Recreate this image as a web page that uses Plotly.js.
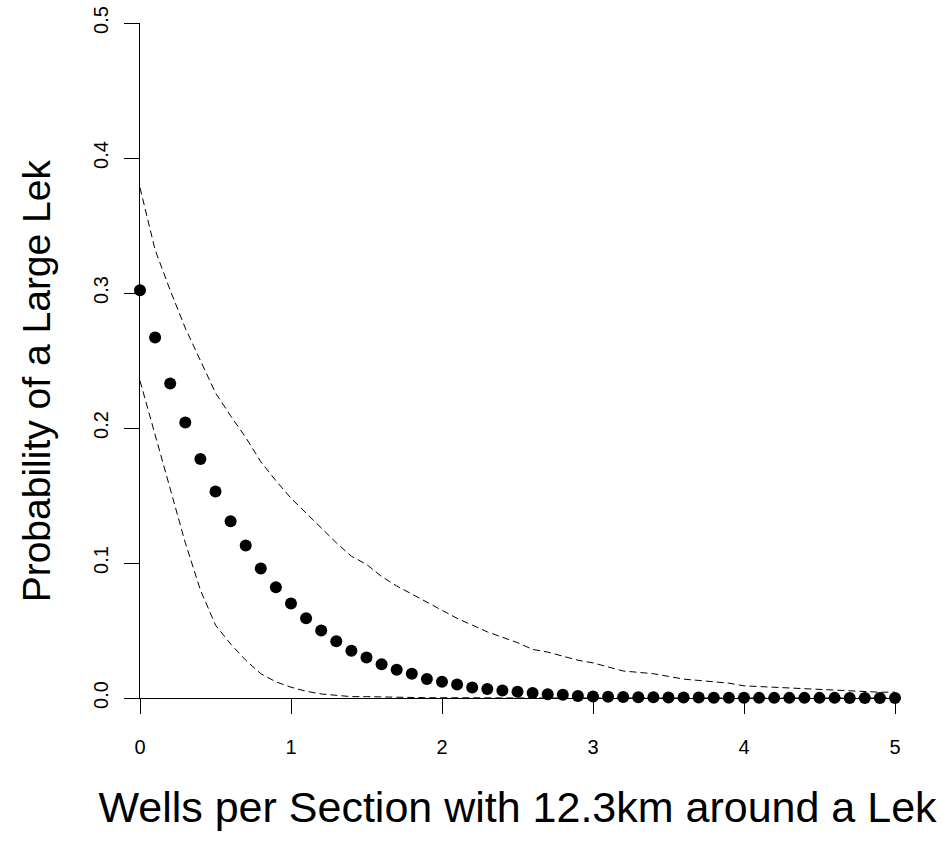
<!DOCTYPE html>
<html>
<head>
<meta charset="utf-8">
<script src="https://cdn.plot.ly/plotly-3.0.1.min.js"></script>
<style>html,body{margin:0;padding:0;background:#fff;}#chart{width:943px;height:841px;}</style>
</head>
<body>
<div id="chart"></div>
<script>
const wells = [0,0.1,0.2,0.3,0.4,0.5,0.6,0.7,0.8,0.9,1.0,1.1,1.2,1.3,1.4,1.5,1.6,1.7,1.8,1.9,2.0,2.1,2.2,2.3,2.4,2.5,2.6,2.7,2.8,2.9,3.0,3.1,3.2,3.3,3.4,3.5,3.6,3.7,3.8,3.9,4.0,4.1,4.2,4.3,4.4,4.5,4.6,4.7,4.8,4.9,5.0];
const probEstimate = [0.302,0.267,0.233,0.204,0.177,0.153,0.131,0.113,0.096,0.082,0.070,0.059,0.050,0.042,0.035,0.030,0.025,0.021,0.018,0.014,0.012,0.010,0.0078,0.0066,0.0056,0.0046,0.0037,0.0028,0.0024,0.0014,0.0011,0.0009,0.0007,0.0006,0.0005,0.0004,0.0003,0.0003,0.0002,0.0002,0.0002,0.0001,0.0001,0.0001,0.0001,0.0001,0.0001,0.0000,0.0000,0.0000,0.0000];
const upperBound = [0.378,0.332,0.302,0.274,0.250,0.226,0.209,0.193,0.175,0.161,0.148,0.137,0.126,0.115,0.105,0.099,0.090,0.083,0.077,0.071,0.065,0.059,0.054,0.049,0.045,0.041,0.036,0.034,0.031,0.028,0.026,0.023,0.020,0.019,0.018,0.016,0.014,0.013,0.012,0.011,0.009,0.0085,0.0078,0.007,0.0065,0.006,0.0056,0.005,0.0045,0.0043,0.0043];
const lowerBound = [0.235,0.195,0.157,0.115,0.080,0.054,0.040,0.028,0.018,0.012,0.008,0.005,0.003,0.002,0.001,0.001,0.0007,0.0005,0.0003,0.0002,0.0002,0.0001,0.0001,0.0001,0,0,0,0,0,0,0,0,0,0,0,0,0,0,0,0,0,0,0,0,0,0,0,0,0,0,0];
const xTicks = [0,1,2,3,4,5];
const yTicks = [0.0,0.1,0.2,0.3,0.4,0.5];
const xTitle = "Wells per Section with 12.3km around a Lek";
const yTitle = "Probability of a Large Lek";

const font = "Liberation Sans, Arial, sans-serif";
const traces = [
  {x: wells, y: upperBound, mode: 'lines', line: {color: '#000', width: 1, dash: '7px,4px'}, hoverinfo: 'skip', cliponaxis: false},
  {x: wells, y: lowerBound, mode: 'lines', line: {color: '#000', width: 1, dash: '7px,4px'}, hoverinfo: 'skip', cliponaxis: false},
  {x: wells, y: probEstimate, mode: 'markers', marker: {color: '#000', size: 12}, cliponaxis: false}
];
const layout = {
  width: 943, height: 841,
  margin: {l: 140, r: 48, t: 23, b: 143},
  paper_bgcolor: '#fff', plot_bgcolor: '#fff',
  showlegend: false,
  font: {family: font, color: '#000'},
  xaxis: {
    range: [0, 5], tickvals: xTicks, ticktext: xTicks.map(String),
    showline: true, linecolor: '#000', linewidth: 1,
    ticks: 'outside', ticklen: 15, tickwidth: 1, tickcolor: '#000',
    showgrid: false, zeroline: false, layer: 'below traces',
    tickfont: {size: 20, family: font}, ticklabelstandoff: 16,
    title: {text: xTitle, font: {size: 43, family: font}, standoff: 34}
  },
  yaxis: {
    range: [0, 0.5], tickvals: yTicks, ticktext: yTicks.map(v => v.toFixed(1)),
    showline: true, linecolor: '#000', linewidth: 1,
    ticks: 'outside', ticklen: 15, tickwidth: 1, tickcolor: '#000',
    showgrid: false, zeroline: false, layer: 'below traces',
    tickangle: -90, tickfont: {size: 20, family: font}, ticklabelstandoff: 8
  },
  annotations: [{
    text: yTitle, textangle: -90, showarrow: false,
    xref: 'paper', yref: 'paper', x: -0.137, y: 0.47,
    xanchor: 'center', yanchor: 'middle',
    font: {size: 39, family: font, color: '#000'}
  }]
};
Plotly.newPlot('chart', traces, layout, {displayModeBar: false, staticPlot: true});
</script>
</body>
</html>
